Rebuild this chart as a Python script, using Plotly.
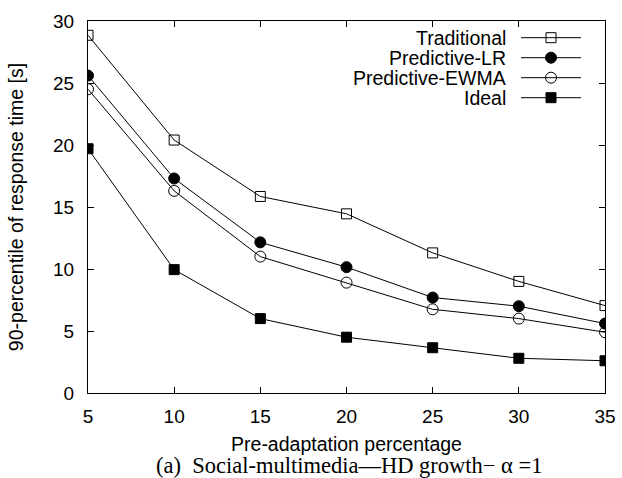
import plotly.graph_objects as go

x_vals = [5, 10, 15, 20, 25, 30, 35]
traditional = [28.85, 20.4, 15.85, 14.45, 11.3, 9.0, 7.05]
predictive_lr = [25.6, 17.3, 12.15, 10.15, 7.7, 7.0, 5.6]
predictive_ewma = [24.5, 16.3, 11.0, 8.9, 6.75, 6.0, 4.9]
ideal = [19.7, 9.95, 6.0, 4.5, 3.65, 2.8, 2.6]

names = ["Traditional", "Predictive-LR", "Predictive-EWMA", "Ideal"]
series = [traditional, predictive_lr, predictive_ewma, ideal]
symbols = ["square-open", "circle", "circle-open", "square"]

x_ticks = [5, 10, 15, 20, 25, 30, 35]
y_ticks = [0, 5, 10, 15, 20, 25, 30]

FONT = "Liberation Sans, Arial, sans-serif"
L, R, T, B = 88, 17, 21, 85
PW, PH = 622 - L - R, 478 - T - B


def px2paper(px, py):
    return (px - L) / PW, (478 - B - py) / PH


def msize(sym):
    return 10 if "square" in sym else 11


fig = go.Figure()
for name, ys, sym in zip(names, series, symbols):
    fig.add_trace(go.Scatter(
        x=x_vals, y=ys, mode="lines+markers", name=name,
        line=dict(color="black", width=1),
        marker=dict(symbol=sym, size=msize(sym), color="black",
                    line=dict(color="black", width=1)),
        showlegend=False,
    ))

# gnuplot-style key: text on the left (right aligned), sample line + marker on the right
key_rows_px = [37.7, 57.7, 77.7, 97.7]
for name, sym, ky_px in zip(names, symbols, key_rows_px):
    tx, ky = px2paper(508, ky_px)
    x0, _ = px2paper(521, ky_px)
    x1, _ = px2paper(581, ky_px)
    xm, _ = px2paper(551, ky_px)
    fig.add_annotation(x=tx, y=ky, xref="paper", yref="paper",
                       text=name, showarrow=False, xanchor="right", yanchor="middle",
                       font=dict(family=FONT, size=19.5, color="black"))
    fig.add_shape(type="line", xref="paper", yref="paper",
                  x0=x0, x1=x1, y0=ky, y1=ky,
                  line=dict(color="black", width=1))
    fig.add_trace(go.Scatter(
        x=[xm], y=[ky], xaxis="x2", yaxis="y2", mode="markers",
        marker=dict(symbol=sym, size=msize(sym), color="black",
                    line=dict(color="black", width=1)),
        showlegend=False, hoverinfo="skip",
    ))

axis_common = dict(
    showline=True, linecolor="black", linewidth=1, mirror="allticks",
    ticks="inside", ticklen=6, tickcolor="black", tickwidth=1,
    showgrid=False, zeroline=False, automargin=False,
    tickfont=dict(family=FONT, size=19, color="black"),
)

fig.update_layout(
    width=622, height=478,
    margin=dict(l=L, r=R, t=T, b=B, autoexpand=False),
    paper_bgcolor="white", plot_bgcolor="white",
    xaxis=dict(range=[5, 35], tickvals=x_ticks, ticktext=[str(v) for v in x_ticks],
               ticklabelstandoff=6,
               title=dict(text="Pre-adaptation percentage", standoff=11,
                          font=dict(family=FONT, size=19.5, color="black")),
               **axis_common),
    yaxis=dict(range=[0, 30], tickvals=y_ticks, ticktext=[str(v) for v in y_ticks],
               ticklabelstandoff=9,
               title=dict(text="90-percentile of response time [s]", standoff=24,
                          font=dict(family=FONT, size=19.5, color="black")),
               **axis_common),
    xaxis2=dict(range=[0, 1], overlaying="x", visible=False, fixedrange=True),
    yaxis2=dict(range=[0, 1], overlaying="y", visible=False, fixedrange=True),
)

cx, cy = px2paper(349, 465)
fig.add_annotation(
    x=cx, y=cy, xref="paper", yref="paper",
    text="(a)  Social-multimedia\u2014HD growth\u2212 \u03b1 =1", showarrow=False,
    xanchor="center", yanchor="middle",
    font=dict(family="Liberation Serif, Times New Roman, serif", size=22.5, color="black"),
)

fig.write_html("out.html")
